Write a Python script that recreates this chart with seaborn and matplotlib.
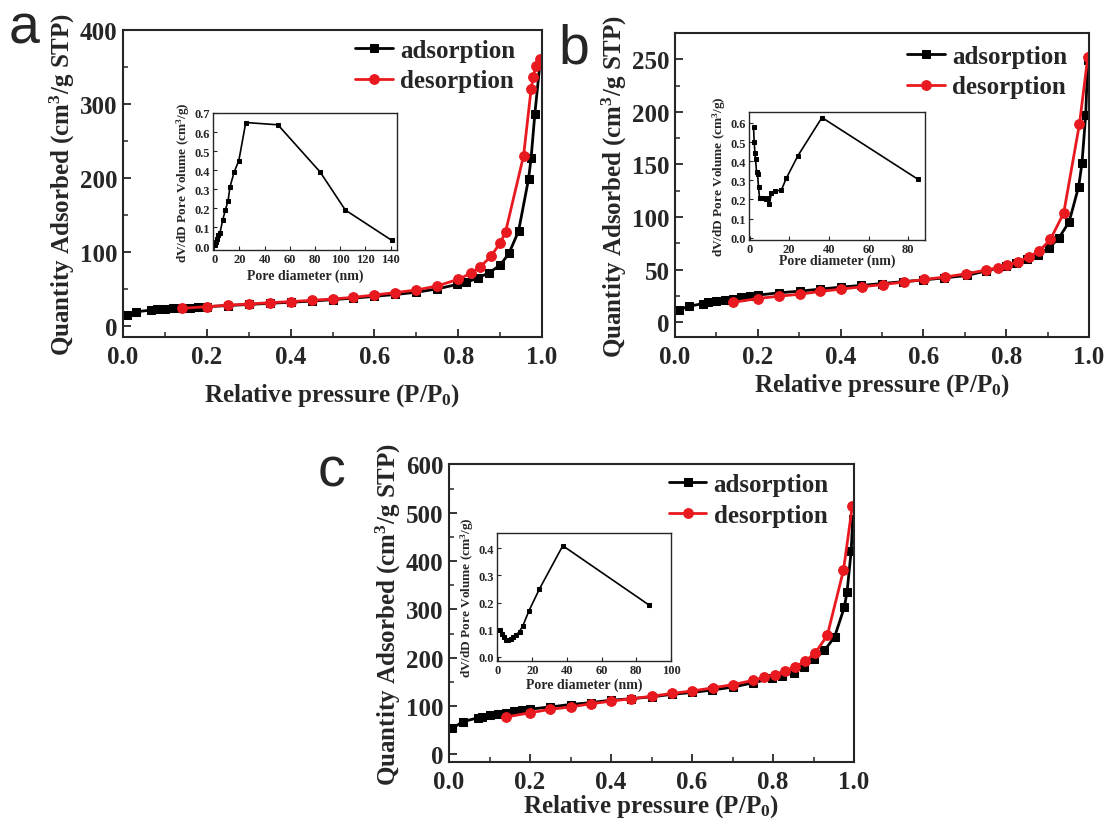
import matplotlib
matplotlib.use("Agg")
import matplotlib.pyplot as plt
import seaborn as sns
from matplotlib.ticker import MultipleLocator, FormatStrFormatter

# === data ===
# panel a
ads_a_x = [0.01, 0.03, 0.068, 0.08, 0.10, 0.12, 0.14, 0.16, 0.18, 0.20, 0.25, 0.30, 0.35, 0.40, 0.45, 0.50,
           0.55, 0.60, 0.65, 0.70, 0.75, 0.797, 0.819, 0.848, 0.874, 0.90, 0.921, 0.944, 0.968, 0.974, 0.983, 0.995]
ads_a_y = [14.8, 19, 21.5, 22.4, 23.5, 24, 24.3, 24.8, 25.3, 26, 27.5, 29, 30.5, 32, 33.5, 35.5,
           37.5, 40, 42.5, 45.5, 50, 56, 58.8, 65, 72, 82, 98, 128, 199, 227, 287, 354]
des_a_x = [0.142, 0.20, 0.251, 0.30, 0.35, 0.40, 0.45, 0.50, 0.55, 0.60, 0.65, 0.70, 0.75, 0.80, 0.83, 0.853,
           0.878, 0.90, 0.913, 0.956, 0.974, 0.979, 0.985, 0.995]
des_a_y = [23.8, 26, 28, 29.6, 31.4, 32.8, 34.6, 36.4, 38.6, 41.8, 45, 48.5, 54, 63, 71, 80,
           94, 112, 127, 230, 320, 337, 351, 361]
pore_a_x = [0.3, 1, 2, 3, 4.5, 6.8, 8.8, 11, 12.4, 15.8, 19.5, 25, 50.5, 84, 104, 141]
pore_a_y = [0.005, 0.02, 0.04, 0.058, 0.07, 0.14, 0.19, 0.24, 0.31, 0.39, 0.45, 0.65, 0.638, 0.39, 0.19, 0.03]

# panel b
ads_b_x = [0.01, 0.035, 0.068, 0.08, 0.10, 0.12, 0.141, 0.16, 0.181, 0.20, 0.251, 0.302, 0.35, 0.40, 0.45, 0.50,
           0.55, 0.60, 0.65, 0.705, 0.75, 0.80, 0.823, 0.85, 0.876, 0.903, 0.927, 0.952, 0.975, 0.983, 0.992, 0.997]
ads_b_y = [12, 15.3, 17.8, 19, 20, 21.6, 22.6, 23.9, 24.8, 25.8, 28, 29.6, 31.5, 33.4, 35, 36.8,
           38.6, 40.2, 42.2, 44.5, 48.7, 53.4, 56.6, 60.4, 64.2, 70.6, 80, 95.4, 129, 151, 197, 249]
des_b_x = [0.141, 0.20, 0.251, 0.302, 0.35, 0.40, 0.451, 0.502, 0.553, 0.602, 0.652, 0.702, 0.751, 0.779,
           0.803, 0.829, 0.855, 0.880, 0.907, 0.939, 0.977, 0.997]
des_b_y = [19, 22.6, 24.8, 26.7, 29.3, 31.5, 33.7, 35.9, 38.2, 40.7, 43, 46, 49.6, 51.8,
           54.4, 57.6, 62.3, 67.7, 78.9, 104, 188.6, 252]
pore_b_x = [2, 2.3, 2.7, 3, 3.5, 4, 4.5, 5, 6, 7, 8.3, 9.3, 10, 11, 13, 16, 18.5, 24.3, 36.5, 85]
pore_b_y = [0.577, 0.5, 0.445, 0.41, 0.345, 0.335, 0.265, 0.21, 0.21, 0.205, 0.2, 0.205, 0.178, 0.232,
            0.245, 0.248, 0.31, 0.427, 0.628, 0.305]

# panel c
ads_c_x = [0.008, 0.034, 0.072, 0.081, 0.10, 0.12, 0.14, 0.16, 0.18, 0.20, 0.25, 0.30, 0.35, 0.40, 0.45, 0.50,
           0.55, 0.60, 0.65, 0.70, 0.751, 0.798, 0.823, 0.851, 0.877, 0.902, 0.927, 0.952, 0.976, 0.983, 0.993, 0.997]
ads_c_y = [53.6, 67.4, 75.6, 77.7, 81, 84, 86, 89, 91.4, 93.5, 98, 103, 107, 112, 115, 119,
           124, 128, 133, 139, 148, 157, 162, 169, 181, 197, 215, 243, 304, 337, 421, 487]
des_c_x = [0.14, 0.20, 0.25, 0.30, 0.35, 0.40, 0.45, 0.50, 0.55, 0.60, 0.651, 0.70, 0.751, 0.778, 0.805,
           0.829, 0.854, 0.879, 0.904, 0.934, 0.974, 0.996]
des_c_y = [77, 86, 93, 98, 104.5, 110, 115, 120, 126, 131, 137.5, 144, 153, 159, 165,
           172.5, 181, 192.4, 209.6, 246, 381, 515]
pore_c_x = [0.8, 1.5, 2.5, 3.5, 4.5, 6, 7.5, 9, 10.5, 12.5, 14.5, 18, 24, 37.5, 87.5]
pore_c_y = [0.1, 0.097, 0.085, 0.072, 0.062, 0.063, 0.066, 0.072, 0.08, 0.093, 0.115, 0.17, 0.25, 0.41, 0.19]

# === style ===
sns.set_style("ticks")
plt.rcParams["font.family"] = ["Liberation Serif", "DejaVu Serif"]
plt.rcParams["font.weight"] = "bold"
plt.rcParams["axes.labelweight"] = "bold"
plt.rcParams["mathtext.fontset"] = "custom"
plt.rcParams["mathtext.rm"] = "Liberation Serif:bold"
plt.rcParams["mathtext.it"] = "Liberation Serif:bold"
plt.rcParams["mathtext.bf"] = "Liberation Serif:bold"
plt.rcParams["mathtext.default"] = "rm"

W, H = 1106, 820
fig = plt.figure(figsize=(W / 100, H / 100), dpi=100)


def px_axes(left, right, top, bottom):
    return fig.add_axes([left / W, 1 - bottom / H, (right - left) / W, (bottom - top) / H])


def style_main(ax, ylim, ymaj, ymin, xlabpad):
    ax.set_xlim(0, 1.0)
    ax.set_ylim(*ylim)
    ax.xaxis.set_major_locator(MultipleLocator(0.2))
    ax.xaxis.set_minor_locator(MultipleLocator(0.1))
    ax.yaxis.set_major_locator(MultipleLocator(ymaj))
    ax.yaxis.set_minor_locator(MultipleLocator(ymin))
    ax.xaxis.set_major_formatter(FormatStrFormatter("%.1f"))
    ax.tick_params(which="major", direction="in", length=6, width=1.3, labelsize=18, pad=6)
    ax.tick_params(which="minor", direction="in", length=3.5, width=1.1)
    ax.tick_params(axis="y", which="major", pad=4)
    for s in ax.spines.values():
        s.set_linewidth(1.5)
        s.set_visible(True)
    ax.set_xlabel("Relative pressure (P/P$_\\mathbf{0}$)", fontsize=18, fontweight="bold", labelpad=xlabpad)
    ax.set_ylabel("Quantity Adsorbed (cm$^\\mathbf{3}$/g STP)", fontsize=18, fontweight="bold", labelpad=2)


def style_inset(ax, xlim, ylim, xmaj, ymaj, xlabpad):
    ax.set_xlim(*xlim)
    ax.set_ylim(*ylim)
    ax.xaxis.set_major_locator(MultipleLocator(xmaj))
    ax.yaxis.set_major_locator(MultipleLocator(ymaj))
    ax.yaxis.set_major_formatter(FormatStrFormatter("%.1f"))
    ax.tick_params(which="major", direction="in", length=3, width=0.8, labelsize=9, pad=2)
    for s in ax.spines.values():
        s.set_linewidth(1.0)
        s.set_visible(True)
    ax.set_xlabel("Pore diameter (nm)", fontsize=10, fontweight="bold", labelpad=xlabpad)
    ax.set_ylabel("dV/dD Pore Volume (cm$^\\mathbf{3}$/g)", fontsize=9.5, fontweight="bold", labelpad=2)


def draw_main(ax, ax_x, ax_y, de_x, de_y):
    sns.lineplot(x=ax_x, y=ax_y, ax=ax, color="black", marker="s", markersize=6,
                 markeredgecolor="black", linewidth=2.0, estimator=None, sort=False,
                 label="adsorption")
    sns.lineplot(x=de_x, y=de_y, ax=ax, color="#e8191f", marker="o", markersize=7,
                 markeredgecolor="#e8191f", linewidth=2.0, estimator=None, sort=False,
                 label="desorption")


def draw_inset(ax, x, y):
    sns.lineplot(x=x, y=y, ax=ax, color="black", marker="s", markersize=2.2,
                 markeredgecolor="black", linewidth=1.2, estimator=None, sort=False, legend=False)


legend_kw = dict(loc="upper right", frameon=False, fontsize=18, handlelength=1.5,
                 handletextpad=0.3, labelspacing=0.3, borderaxespad=0.2)

# panel a
ax_a = px_axes(123, 542, 31, 338)
draw_main(ax_a, ads_a_x, ads_a_y, des_a_x, des_a_y)
style_main(ax_a, (-15, 400), 100, 50, 9)
ax_a.legend(bbox_to_anchor=(0.972, 1.02), **legend_kw)
in_a = px_axes(213, 397, 114, 251)
draw_inset(in_a, pore_a_x, pore_a_y)
style_inset(in_a, (-1, 145), (-0.02, 0.7), 20, 0.1, 3)

# panel b
ax_b = px_axes(675, 1089, 34, 338)
draw_main(ax_b, ads_b_x, ads_b_y, des_b_x, des_b_y)
style_main(ax_b, (-14, 275), 50, 25, 2)
ax_b.legend(bbox_to_anchor=(0.984, 1.01), **legend_kw)
in_b = px_axes(749, 925, 113, 241)
draw_inset(in_b, pore_b_x, pore_b_y)
style_inset(in_b, (-0.3, 88.5), (-0.012, 0.657), 20, 0.1, -1)

# panel c
ax_c = px_axes(449, 854, 465, 763)
draw_main(ax_c, ads_c_x, ads_c_y, des_c_x, des_c_y)
style_main(ax_c, (-16, 601), 100, 50, -1)
ax_c.legend(bbox_to_anchor=(0.975, 1.02), **legend_kw)
in_c = px_axes(497, 671, 534, 662)
draw_inset(in_c, pore_c_x, pore_c_y)
style_inset(in_c, (-0.5, 100), (-0.016, 0.457), 20, 0.1, 1)

# panel letters
for letter, x, y in [("a", 24, 44), ("b", 574, 63), ("c", 331, 487)]:
    fig.text(x / W, 1 - y / H, letter, fontsize=40, ha="center", va="baseline",
             family=["Liberation Sans", "DejaVu Sans"], fontweight="normal")

fig.savefig("out.png", dpi=100)
